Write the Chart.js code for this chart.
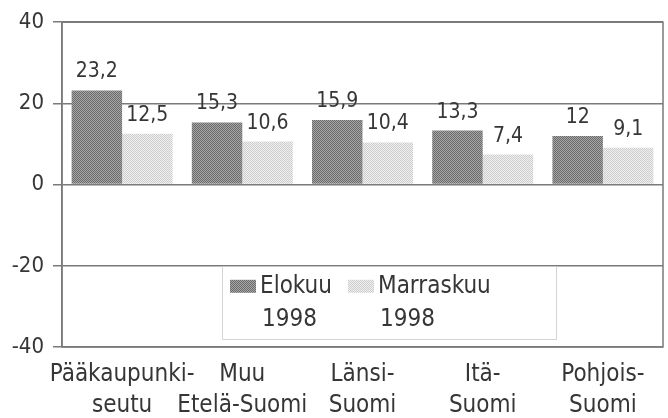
<!DOCTYPE html>
<html lang="fi">
<head>
  <meta charset="UTF-8">
  <title>Elokuu / Marraskuu 1998</title>
  <script src="https://cdn.jsdelivr.net/npm/chart.js"></script>
  <style>
    body { margin: 0; background: #fff; }
    #wrap { width: 668px; height: 418px; }
  </style>
</head>
<body>
<div id="wrap"><canvas id="chart"></canvas></div>
<script>
  const regions = [
    ['Pääkaupunki-', 'seutu'],
    ['Muu', 'Etelä-Suomi'],
    ['Länsi-', 'Suomi'],
    ['Itä-', 'Suomi'],
    ['Pohjois-', 'Suomi']
  ];
  const seriesNames = [['Elokuu', '1998'], ['Marraskuu', '1998']];
  const elokuu = [23.2, 15.3, 15.9, 13.3, 12];
  const marraskuu = [12.5, 10.6, 10.4, 7.4, 9.1];
  const yTicks = [-40, -20, 0, 20, 40];

  const FONT = "'Liberation Sans Narrow', 'DejaVu Sans Condensed', sans-serif";
  const INK = '#363636';
  const LINE = '#7a7a7a';

  // stippled fills like the printed original
  function stipple(a, b) {
    const c = document.createElement('canvas');
    c.width = 2; c.height = 2;
    const g = c.getContext('2d');
    g.fillStyle = a; g.fillRect(0, 0, 2, 2);
    g.fillStyle = b; g.fillRect(0, 0, 1, 1); g.fillRect(1, 1, 1, 1);
    return g.createPattern(c, 'repeat');
  }
  const darkFill = stipple('#a4a4a4', '#6c6c6c');
  const lightFill = stipple('#f0f0f0', '#cdcdcd');

  const fmt = v => String(v).replace('.', ',');

  const frame = {
    id: 'frame',
    afterDraw(chart) {
      const { ctx, chartArea: a } = chart;
      ctx.save();
      ctx.strokeStyle = LINE;
      ctx.lineWidth = 1.5;
      ctx.strokeRect(a.left, a.top, a.right - a.left, a.bottom - a.top);
      ctx.restore();
    }
  };

  const valueLabels = {
    id: 'valueLabels',
    afterDatasetsDraw(chart) {
      const { ctx } = chart;
      ctx.save();
      ctx.font = '21px ' + FONT;
      ctx.fillStyle = INK;
      ctx.textAlign = 'center';
      ctx.textBaseline = 'bottom';
      chart.data.datasets.forEach((ds, i) => {
        chart.getDatasetMeta(i).data.forEach((bar, j) => {
          ctx.fillText(fmt(ds.data[j]), bar.x, bar.y - 8);
        });
      });
      ctx.restore();
    }
  };

  const boxLegend = {
    id: 'boxLegend',
    afterDraw(chart) {
      const { ctx, chartArea: a, scales } = chart;
      const top = scales.y.getPixelForValue(-20);
      const bottom = scales.y.getPixelForValue(-40) - 8;
      const left = a.left + 160, right = a.left + 494;
      ctx.save();
      ctx.fillStyle = '#fff';
      ctx.fillRect(left, top + 1, right - left, bottom - top - 1);
      ctx.strokeStyle = '#d4d4d4';
      ctx.lineWidth = 1;
      ctx.beginPath();
      ctx.moveTo(left + 0.5, top + 1);
      ctx.lineTo(left + 0.5, bottom + 0.5);
      ctx.lineTo(right + 0.5, bottom + 0.5);
      ctx.lineTo(right + 0.5, top + 1);
      ctx.stroke();
      ctx.font = '24px ' + FONT;
      ctx.fillStyle = INK;
      ctx.textBaseline = 'middle';
      const xs = [left + 8, left + 126];
      chart.data.datasets.forEach((ds, i) => {
        const x = xs[i];
        ctx.fillStyle = ds.backgroundColor;
        ctx.fillRect(x, top + 14, 26, 13);
        ctx.fillStyle = INK;
        ctx.textAlign = 'left';
        ctx.fillText(seriesNames[i][0], x + 30, top + 21);
        ctx.fillText(seriesNames[i][1], x + 32, top + 54);
      });
      ctx.restore();
    }
  };

  new Chart(document.getElementById('chart'), {
    type: 'bar',
    data: {
      labels: regions,
      datasets: [
        { label: seriesNames[0].join(' '), data: elokuu, backgroundColor: darkFill },
        { label: seriesNames[1].join(' '), data: marraskuu, backgroundColor: lightFill }
      ]
    },
    options: {
      responsive: true,
      maintainAspectRatio: false,
      animation: false,
      layout: { padding: { top: 19, right: 5, left: 0, bottom: 0 } },
      plugins: { legend: { display: false }, tooltip: { enabled: false } },
      datasets: { bar: { categoryPercentage: 0.84, barPercentage: 1 } },
      scales: {
        x: {
          grid: { display: false },
          border: { display: false },
          ticks: {
            color: INK,
            font: { family: FONT, size: 24, lineHeight: 1.3 },
            padding: 4,
            maxRotation: 0,
            autoSkip: false
          },
          afterFit(s) { s.height = 71; }
        },
        y: {
          min: -40,
          max: 40,
          afterBuildTicks(s) { s.ticks = yTicks.map(v => ({ value: v })); },
          grid: { color: LINE, lineWidth: 1.5, tickLength: 9 },
          border: { color: LINE, width: 1.5 },
          ticks: {
            color: INK,
            padding: 9,
            font: { family: FONT, size: 22 }
          },
          afterFit(s) { s.width = 62; }
        }
      }
    },
    plugins: [valueLabels, frame, boxLegend]
  });
</script>
</body>
</html>
